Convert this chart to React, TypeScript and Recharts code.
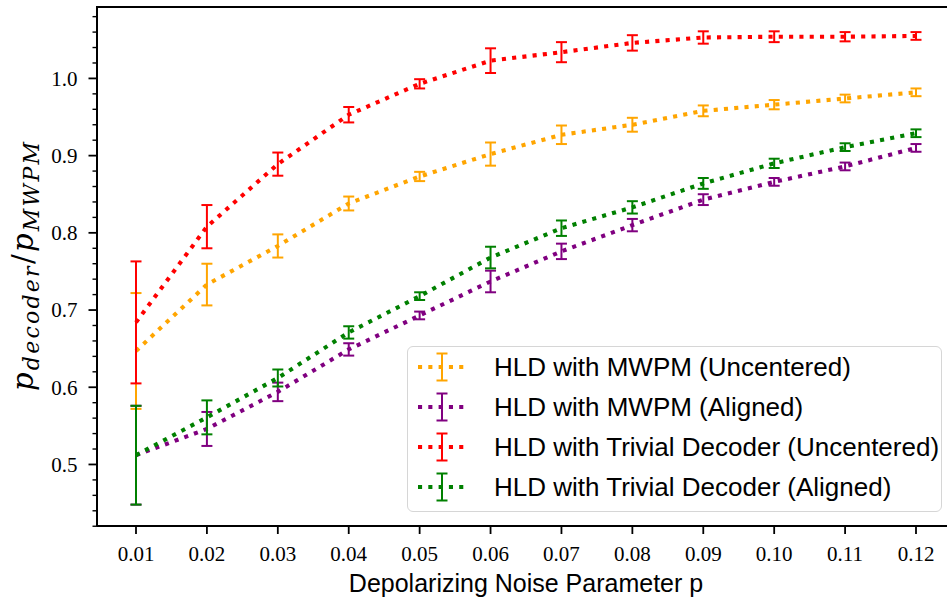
import React from 'react';
import { ComposedChart, Line, XAxis, YAxis, ErrorBar, Legend } from 'recharts';

// ---------------- data ----------------
const pValues = [0.01, 0.02, 0.03, 0.04, 0.05, 0.06, 0.07, 0.08, 0.09, 0.1, 0.11, 0.12];

const mwpmUncentered = [0.647, 0.733, 0.783, 0.838, 0.873, 0.902, 0.927, 0.94, 0.958, 0.966, 0.974, 0.982];
const mwpmUncenteredErr = [0.075, 0.027, 0.015, 0.009, 0.006, 0.015, 0.012, 0.009, 0.007, 0.006, 0.005, 0.005];

const mwpmAligned = [0.512, 0.546, 0.594, 0.649, 0.693, 0.737, 0.776, 0.81, 0.843, 0.866, 0.886, 0.91];
const mwpmAlignedErr = [0.064, 0.022, 0.012, 0.008, 0.005, 0.014, 0.01, 0.008, 0.007, 0.005, 0.005, 0.005];

const trivialUncentered = [0.684, 0.808, 0.889, 0.953, 0.993, 1.023, 1.034, 1.046, 1.053, 1.054, 1.054, 1.055];
const trivialUncenteredErr = [0.079, 0.028, 0.015, 0.01, 0.006, 0.016, 0.013, 0.01, 0.008, 0.007, 0.006, 0.005];

const trivialAligned = [0.512, 0.561, 0.612, 0.671, 0.718, 0.768, 0.806, 0.833, 0.864, 0.89, 0.911, 0.929];
const trivialAlignedErr = [0.064, 0.022, 0.011, 0.008, 0.005, 0.014, 0.01, 0.008, 0.007, 0.006, 0.005, 0.005];

const xTicks = [0.01, 0.02, 0.03, 0.04, 0.05, 0.06, 0.07, 0.08, 0.09, 0.1, 0.11, 0.12];
const xTickLabels = ['0.01', '0.02', '0.03', '0.04', '0.05', '0.06', '0.07', '0.08', '0.09', '0.10', '0.11', '0.12'];
const yTicks = [0.42, 0.44, 0.46, 0.48, 0.5, 0.52, 0.54, 0.56, 0.58, 0.6, 0.62, 0.64, 0.66, 0.68, 0.7, 0.72, 0.74, 0.76, 0.78, 0.8, 0.82, 0.84, 0.86, 0.88, 0.9, 0.92, 0.94, 0.96, 0.98, 1.0, 1.02, 1.04, 1.06, 1.08];
const yMajorTicks = [0.5, 0.6, 0.7, 0.8, 0.9, 1.0];

const xDomain = [0.0045, 0.1255];
const yDomain = [0.4203, 1.0925];

const series = [
  { key: 'mwpmU', name: 'HLD with MWPM (Uncentered)', color: '#FFA500', values: mwpmUncentered, errs: mwpmUncenteredErr },
  { key: 'mwpmA', name: 'HLD with MWPM (Aligned)', color: '#800080', values: mwpmAligned, errs: mwpmAlignedErr },
  { key: 'trivU', name: 'HLD with Trivial Decoder (Uncentered)', color: '#FF0000', values: trivialUncentered, errs: trivialUncenteredErr },
  { key: 'trivA', name: 'HLD with Trivial Decoder (Aligned)', color: '#008000', values: trivialAligned, errs: trivialAlignedErr },
];

const data = pValues.map((p, i) => {
  const row: any = { p };
  series.forEach((s) => {
    row[s.key] = s.values[i];
    row[s.key + 'Err'] = s.errs[i];
  });
  return row;
});

// ---------------- layout / styling ----------------
const CHART_W = 960;
const CHART_H = 600;
const MARGIN = { top: 7, right: 5, bottom: 0, left: 0 };
const Y_AXIS_W = 97;
const LINE_W = 4.1;
const DASH = '4.1 6.2';
const SERIF = "'Liberation Serif', 'DejaVu Serif', serif";
const MATH = "'DejaVu Serif', 'Liberation Serif', serif";
const SANS = "'Liberation Sans', Arial, sans-serif";

const XTick = (props: any) => {
  const { x, y, payload } = props;
  const idx = xTicks.findIndex((t) => Math.abs(t - payload.value) < 1e-9);
  const label = idx >= 0 ? xTickLabels[idx] : String(payload.value);
  return (
    <g>
      <line x1={x} x2={x} y1={y} y2={y + 8} stroke="#000" strokeWidth={1.8} />
      <text x={x} y={y + 28} dy="0.35em" textAnchor="middle" fontFamily={SERIF} fontSize={21} fill="#000">
        {label}
      </text>
    </g>
  );
};

const YTick = (props: any) => {
  const { x, y, payload } = props;
  const v = payload.value;
  const major = yMajorTicks.some((t) => Math.abs(t - v) < 1e-9);
  return (
    <g>
      <line x1={x} x2={x - (major ? 8.5 : 4.5)} y1={y} y2={y} stroke="#000" strokeWidth={major ? 1.8 : 1.4} />
      {major && (
        <text x={x - 19.5} y={y} dy="0.35em" textAnchor="end" fontFamily={SERIF} fontSize={21} fill="#000">
          {v.toFixed(1)}
        </text>
      )}
    </g>
  );
};

const YLabel = (props: any) => {
  const vb = props.viewBox || {};
  const top = Number.isFinite(vb.y) ? vb.y : MARGIN.top;
  const h = Number.isFinite(vb.height) ? vb.height : CHART_H - MARGIN.top - 74;
  const cy = top + h / 2;
  const bx = 33;
  return (
    <text
      transform={`rotate(-90, ${bx}, ${cy})`}
      x={bx}
      y={cy}
      textAnchor="middle"
      fontFamily={MATH}
      fontStyle="italic"
      fill="#000"
      textLength={249}
      lengthAdjust="spacing"
    >
      <tspan fontSize={29}>p</tspan>
      <tspan fontSize={22} dy={6}>decoder</tspan>
      <tspan fontSize={29} dy={-6} fontStyle="normal">/</tspan>
      <tspan fontSize={29}>p</tspan>
      <tspan fontSize={22} dy={6}>MWPM</tspan>
    </text>
  );
};

const XLabel = (props: any) => {
  const vb = props.viewBox || { x: 97, y: 526, width: 858, height: 74 };
  return (
    <text x={vb.x + vb.width / 2} y={vb.y + 65.5} textAnchor="middle" fontFamily={SANS} fontSize={25} fill="#000">
      Depolarizing Noise Parameter p
    </text>
  );
};

const LegendIcon = ({ color }: { color: string }) => (
  <svg width={86} height={40} style={{ display: 'block', flex: 'none' }}>
    <line x1={10} x2={58} y1={20} y2={20} stroke={color} strokeWidth={LINE_W} strokeDasharray={DASH} />
    <line x1={34} x2={34} y1={6.5} y2={33.5} stroke={color} strokeWidth={2} />
    <line x1={28.5} x2={39.5} y1={6.5} y2={6.5} stroke={color} strokeWidth={2} />
    <line x1={28.5} x2={39.5} y1={33.5} y2={33.5} stroke={color} strokeWidth={2} />
  </svg>
);

const LegendBox = () => (
  <div
    style={{
      width: 535,
      height: 166,
      boxSizing: 'border-box',
      border: '1.5px solid #d6d6d6',
      borderRadius: 6,
      background: 'rgba(255,255,255,0.8)',
    }}
  >
    {series.map((s) => (
      <div key={s.key} style={{ display: 'flex', alignItems: 'center', height: 40 }}>
        <LegendIcon color={s.color} />
        <span style={{ fontFamily: SANS, fontSize: 26, lineHeight: '40px', color: '#000', whiteSpace: 'nowrap' }}>
          {s.name}
        </span>
      </div>
    ))}
  </div>
);

export default function App() {
  return (
    <div style={{ position: 'absolute', left: 0, top: 0, width: 947, height: 600, overflow: 'hidden', background: '#fff' }}>
      <ComposedChart width={CHART_W} height={CHART_H} data={data} margin={MARGIN}>
        <XAxis
          dataKey="p"
          type="number"
          domain={xDomain}
          allowDataOverflow
          ticks={xTicks}
          interval={0}
          tickSize={0}
          tickMargin={0}
          tick={<XTick />}
          tickLine={false}
          axisLine={{ stroke: '#000', strokeWidth: 2 }}
          height={74}
          label={<XLabel />}
        />
        <YAxis
          type="number"
          domain={yDomain}
          allowDataOverflow
          ticks={yTicks}
          interval={0}
          tickSize={0}
          tickMargin={0}
          tick={<YTick />}
          tickLine={false}
          axisLine={{ stroke: '#000', strokeWidth: 2 }}
          width={Y_AXIS_W}
          label={<YLabel />}
        />
        {series.map((s) => (
          <Line
            key={s.key}
            type="linear"
            dataKey={s.key}
            name={s.name}
            stroke={s.color}
            strokeWidth={LINE_W}
            strokeDasharray={DASH}
            strokeLinecap="butt"
            dot={false}
            activeDot={false}
            isAnimationActive={false}
          >
            <ErrorBar dataKey={s.key + 'Err'} direction="y" width={5.5} stroke={s.color} strokeWidth={2} isAnimationActive={false} />
          </Line>
        ))}
        <Legend
          layout="vertical"
          align="center"
          verticalAlign="middle"
          content={<LegendBox />}
          wrapperStyle={{ left: 407, top: 346, width: 535, height: 166 }}
        />
      </ComposedChart>
      {/* top spine of the axes frame (the right spine lies outside the cropped view) */}
      <div
        style={{
          position: 'absolute',
          left: MARGIN.left + Y_AXIS_W - 1,
          top: MARGIN.top - 1,
          width: 947 - (MARGIN.left + Y_AXIS_W - 1),
          height: 2,
          background: '#000',
          pointerEvents: 'none',
        }}
      />
    </div>
  );
}
